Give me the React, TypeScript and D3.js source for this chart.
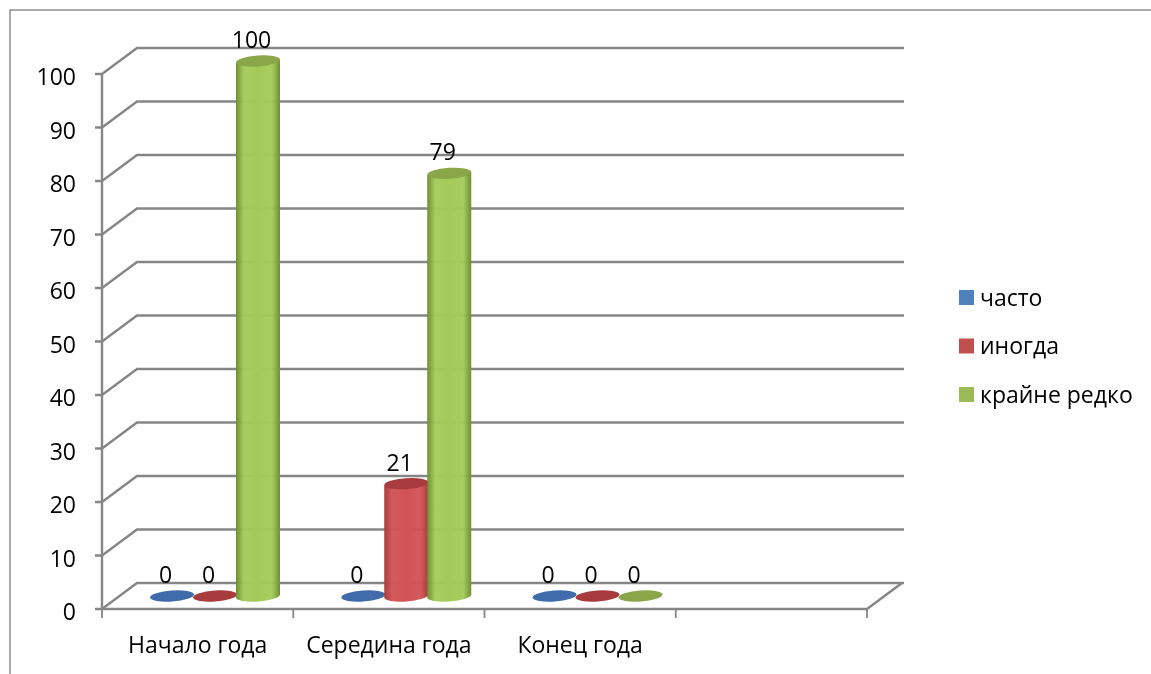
import React from "react";
import * as d3 from "d3";

const categories = ["Начало года", "Середина года", "Конец года", ""];
const seriesNames = ["часто", "иногда", "крайне редко"];
const often = [0, 0, 0];
const sometimes = [0, 21, 0];
const rarely = [100, 79, 0];
const yTicks = [0, 10, 20, 30, 40, 50, 60, 70, 80, 90, 100];
const seriesValues = [often, sometimes, rarely];
const colors = ["#4f81bd", "#c0504d", "#9bbb59"];
const edge = ["#2f5c96", "#a83c3c", "#6f8f30"];
const mid = ["#4f81bd", "#d25254", "#a3ca58"];
const topC = ["#3f6cab", "#a83a3e", "#8aa648"];

const W = 1151, H = 674;
const FONT = "'Open Sans', 'Noto Sans', sans-serif";
const GRID = "#868686";
const DX = 35, DY = -26;
const RX = 22, RY = 5.5;
const TILT = -4;
const SLOPE = 1.5;

export default function App() {
  const y = d3.scaleLinear().domain([0, 100]).range([609, 74]);
  const x = d3.scaleBand<string>().domain(categories).range([102, 867]);
  const inner = d3.scaleBand<string>().domain(seriesNames).range([31, 160]);
  const band = x.bandwidth();
  const edges = [...categories.map((c) => x(c) as number), 867];

  return (
    <svg width={W} height={H} viewBox={`0 0 ${W} ${H}`} style={{ position: "absolute", left: 0, top: 0, background: "#fff" }} fontFamily={FONT}>
      <defs>
        <filter id="soft" x="-5%" y="-5%" width="110%" height="110%"><feGaussianBlur stdDeviation="0.45" /></filter>
        {seriesNames.map((_, i) => (
          <linearGradient id={`g${i}`} key={i} x1="0" x2="1" y1="0" y2="0">
            <stop offset="0" stopColor={edge[i]} />
            <stop offset="0.18" stopColor={mid[i]} stopOpacity="0.95" />
            <stop offset="0.5" stopColor={mid[i]} />
            <stop offset="0.82" stopColor={mid[i]} stopOpacity="0.95" />
            <stop offset="1" stopColor={edge[i]} />
          </linearGradient>
        ))}
      </defs>
      <g filter="url(#soft)">
        <path d={`M10,${H}V10H${W}`} fill="none" stroke="#8f8f8f" strokeWidth={1.5} />
        {yTicks.map((t) => (
          <g key={t}>
            <path d={`M95,${y(t)}H102L${102 + DX},${y(t) + DY}H${904}`} fill="none" stroke={GRID} strokeWidth={2.4} />
            <text x={76} y={y(t) + 11} textAnchor="end" fontSize={23} fill="#000">{t}</text>
          </g>
        ))}
        <path d={`M102,${y(100)}V${y(0)}H867L${867 + DX},${y(0) + DY}`} fill="none" stroke={GRID} strokeWidth={2.4} />
        {edges.map((e) => (
          <path key={e} d={`M${e},${y(0)}v9`} stroke={GRID} strokeWidth={1.8} />
        ))}
        {categories.map((c) => (
          <text key={c} x={(x(c) as number) + band / 2} y={653} textAnchor="middle" fontSize={23} fill="#000">{c}</text>
        ))}
        {categories.slice(0, 3).map((c, ci) =>
          seriesNames.map((s, si) => {
            const v = seriesValues[si][ci];
            const cx = (x(c) as number) + (inner(s) as number) + inner.bandwidth() / 2 + DX / 2;
            const base = y(0) + DY / 2;
            const top = base - (y(0) - y(v));
            return (
              <g key={s}>
                {v > 0 && (
                  <path
                    d={`M${cx - RX},${top + SLOPE}V${base + SLOPE}A${RX},${RY} ${TILT} 0 0 ${cx + RX},${base - SLOPE}V${top - SLOPE}Z`}
                    fill={`url(#g${si})`}
                  />
                )}
                <ellipse cx={cx} cy={top} rx={RX} ry={RY} fill={topC[si]} transform={`rotate(${TILT} ${cx} ${top})`} />
              </g>
            );
          })
        )}
        {categories.slice(0, 3).map((c, ci) =>
          seriesNames.map((s, si) => {
            const v = seriesValues[si][ci];
            const cx = (x(c) as number) + (inner(s) as number) + inner.bandwidth() / 2 + DX / 2;
            const top = y(0) + DY / 2 - (y(0) - y(v));
            return (
              <text key={s} x={cx - 6.5} y={top - 13} textAnchor="middle" fontSize={23} fill="#000">{v}</text>
            );
          })
        )}
        {seriesNames.map((s, i) => (
          <g key={s}>
            <rect x={959} y={290 + i * 48.5} width={15} height={15} fill={colors[i]} />
            <text x={980} y={305.5 + i * 48.5} fontSize={23} fill="#000">{s}</text>
          </g>
        ))}
      </g>
    </svg>
  );
}
